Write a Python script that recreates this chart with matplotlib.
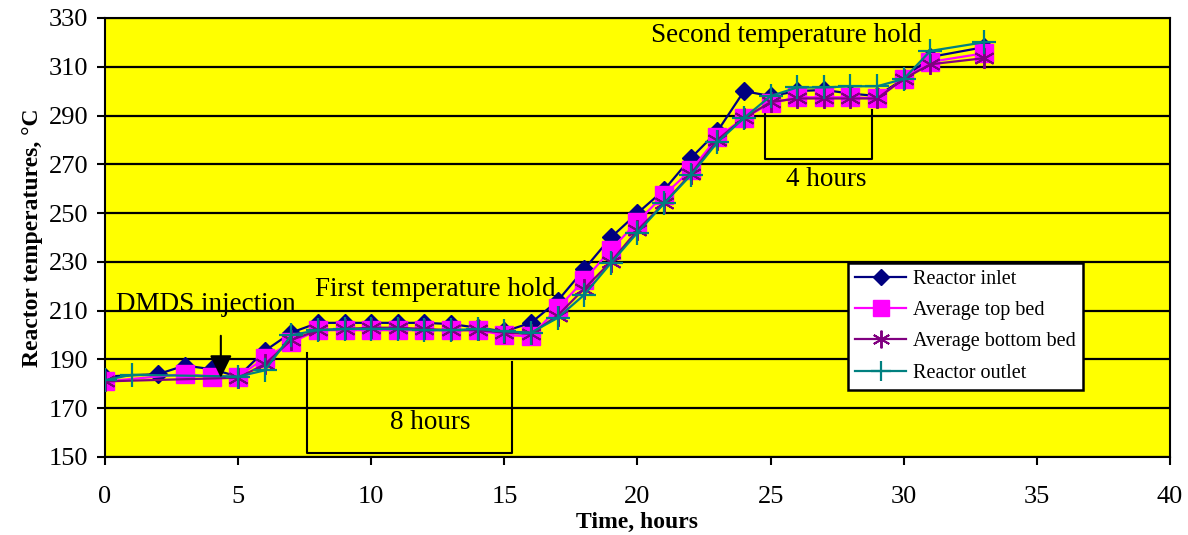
import matplotlib.pyplot as plt

plt.rcParams["font.family"] = ["Liberation Serif", "DejaVu Serif"]

# hours and temperatures (deg C)
inlet_x = [0, 2, 3, 4, 5, 6, 7, 8, 9, 10, 11, 12, 13, 14, 15, 16, 17, 18, 19, 20,
           21, 22, 23, 24, 25, 26, 27, 28, 29, 30, 31, 33]
inlet_y = [183, 184, 187.5, 186, 183, 193.5, 201, 205, 205, 205, 205, 205, 204.5, 203, 201.5, 205, 214,
           227, 240, 250, 259.5, 272.5, 283.5, 300, 298, 300, 300.5, 299, 298, 305, 314, 318]

top_x = [0, 3, 4, 5, 6, 7, 8, 9, 10, 11, 12, 13, 14, 15, 16, 17, 18, 19, 20,
         21, 22, 23, 24, 25, 26, 27, 28, 29, 30, 31, 33]
top_y = [181, 184, 183, 183, 190.5, 197, 202, 202, 202, 202, 202, 202, 202, 200, 199.5, 211,
         222.5, 235, 246.5, 257.5, 267.5, 281, 289, 295, 297.5, 297.5, 297.5, 297, 305, 312, 315.5]

bottom_x = [0, 5, 6, 7, 8, 9, 10, 11, 12, 13, 14, 15, 16, 17, 18, 19, 20,
            21, 22, 23, 24, 25, 26, 27, 28, 29, 30, 31, 33]
bottom_y = [181, 182.5, 188, 198, 202, 202.5, 203, 203, 202.5, 202, 202, 201, 200.5, 208,
            219, 230, 243, 254, 266, 280, 289, 295.5, 297, 297, 297, 297, 305, 311, 313.5]

outlet_x = [0, 1, 5, 6, 7, 8, 9, 10, 11, 12, 13, 14, 15, 16, 17, 18, 19, 20,
            21, 22, 23, 24, 25, 26, 27, 28, 29, 30, 31, 33]
outlet_y = [181.5, 183.7, 183, 185.5, 200, 202, 202.5, 202.5, 202.5, 202, 202, 202.5, 201.5, 201,
            207, 216.5, 229.5, 242, 254, 265.5, 279, 289, 298, 301.5, 301.5, 302, 302, 305, 316.5, 320]

fig = plt.figure(figsize=(11.88, 5.35), dpi=100)
ax = fig.add_axes([0.0884, 0.1458, 0.8964, 0.8206])
ax.set_facecolor("#FFFF00")

ax.plot(inlet_x, inlet_y, color="#000080", lw=1.6, marker="D", ms=9,
        label="Reactor inlet", zorder=3)
ax.plot(top_x, top_y, color="#FF00FF", lw=1.6, marker="s", ms=13,
        label="Average top bed", zorder=4)
ax.plot(bottom_x, bottom_y, color="#800080", lw=1.6, marker=(6, 2, 0), ms=15, mew=1.4,
        label="Average bottom bed", zorder=5)
ax.plot(outlet_x, outlet_y, color="#008080", lw=1.6, marker="+", ms=17, mew=1.6,
        label="Reactor outlet", zorder=6)

ax.set_xlim(0, 40)
ax.set_ylim(150, 330)
ax.set_xticks(range(0, 41, 5))
ax.set_yticks(range(150, 331, 20))
ax.yaxis.grid(True, color="black", lw=1.6)
ax.set_axisbelow(True)
ax.tick_params(labelsize=19, direction="out", length=6, width=1.5)
ax.tick_params(axis="x", pad=15)
ax.tick_params(axis="y", pad=6)
for s in ax.spines.values():
    s.set_linewidth(1.5)

ax.set_xlabel("Time, hours", fontsize=17, fontweight="bold", labelpad=3)
ax.set_ylabel("Reactor temperatures, °C", fontsize=17, fontweight="bold", labelpad=4)

# annotations
ax.text(3.8, 212.5, "DMDS injection", fontsize=19.5, ha="center", va="center")
ax.annotate("", xy=(4.35, 182.5), xytext=(4.35, 199.7),
            arrowprops=dict(arrowstyle="-|>,head_width=0.27,head_length=0.55",
                            color="black", lw=1.5, mutation_scale=25,
                            shrinkA=0, shrinkB=0), zorder=7)
ax.text(12.4, 218.5, "First temperature hold", fontsize=19.5, ha="center", va="center")
ax.plot([7.6, 7.6, 15.3, 15.3], [192.5, 151.8, 151.8, 189], color="black", lw=1.5)
ax.text(12.2, 164, "8 hours", fontsize=19.5, ha="center", va="center")
ax.text(25.6, 323, "Second temperature hold", fontsize=19.5, ha="center", va="center")
ax.plot([24.8, 24.8, 28.8, 28.8], [293.5, 272.2, 272.2, 292.3], color="black", lw=1.5)
ax.text(27.1, 263.6, "4 hours", fontsize=19.5, ha="center", va="center")

leg = ax.legend(loc="upper left", bbox_to_anchor=(0.698, 0.442), fontsize=14.5,
                frameon=True, fancybox=False, edgecolor="black", framealpha=1,
                borderpad=0.35, labelspacing=0.6, handlelength=2.5, handletextpad=0.35,
                borderaxespad=0, markerscale=0.85)
leg.get_frame().set_linewidth(1.8)
leg.set_zorder(10)

fig.savefig("out.png", dpi=100)
